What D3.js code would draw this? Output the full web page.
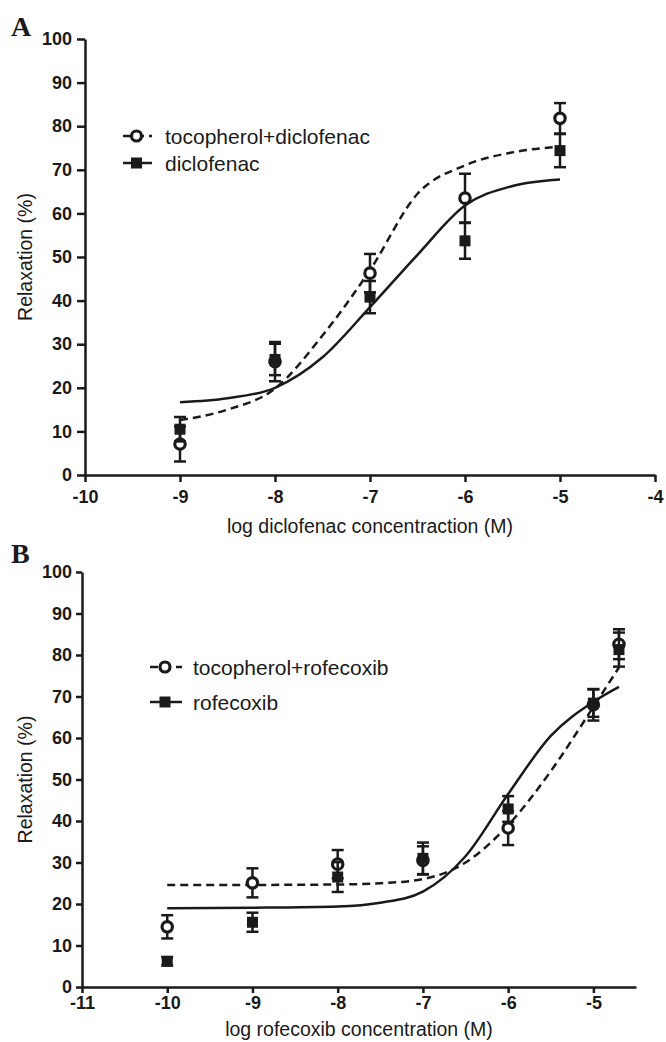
<!DOCTYPE html>
<html>
<head>
<meta charset="utf-8">
<script src="https://cdn.jsdelivr.net/npm/d3@7/dist/d3.min.js"></script>
<style>
  html, body { margin: 0; padding: 0; background: #fff; }
  svg { display: block; }
</style>
</head>
<body>
<svg id="chart" width="666" height="1042"></svg>
<script>
// ---------- Panel A data ----------
const aDoses = [-9, -8, -7, -6, -5];
const aTocoMean = [7.1, 26.0, 46.3, 63.5, 81.8];
const aTocoSem  = [4.0, 4.5, 4.4, 5.6, 3.5];
const aDicloMean = [10.5, 26.5, 40.8, 53.7, 74.4];
const aDicloSem  = [2.8, 3.6, 3.7, 4.1, 3.8];
const aFitX = [-9, -8.5, -8, -7.5, -7, -6.5, -6, -5.5, -5];
const aTocoFit  = [12.6, 15.0, 19.8, 32.0, 47.0, 64.5, 71.0, 74.0, 75.3];
const aDicloFit = [16.7, 17.6, 20.0, 27.0, 38.5, 50.5, 61.8, 66.3, 67.8];
const aXTicks = [-10, -9, -8, -7, -6, -5, -4];
const aLegend = ["tocopherol+diclofenac", "diclofenac"];

// ---------- Panel B data ----------
const bDoses = [-10, -9, -8, -7, -6, -5, -4.7];
const bTocoMean = [14.5, 25.1, 29.6, 30.5, 38.3, 68.0, 82.6];
const bTocoSem  = [2.8, 3.5, 3.4, 3.4, 4.1, 3.8, 3.6];
const bRofeMean = [6.2, 15.6, 26.5, 31.0, 42.9, 68.4, 81.3];
const bRofeSem  = [1.0, 2.3, 3.6, 3.8, 3.1, 3.3, 4.1];
const bFitX = [-10, -9, -8, -7.5, -7, -6.5, -6, -5.5, -5, -4.7];
const bTocoFit = [24.6, 24.6, 24.7, 25.0, 26.0, 30.0, 39.0, 52.0, 67.5, 77.0];
const bRofeFit = [19.0, 19.1, 19.4, 20.3, 23.0, 31.5, 46.5, 60.5, 68.7, 72.3];
const bXTicks = [-11, -10, -9, -8, -7, -6, -5];
const bLegend = ["tocopherol+rofecoxib", "rofecoxib"];

const yTicks = [0, 10, 20, 30, 40, 50, 60, 70, 80, 90, 100];

const svg = d3.select("#chart");
const FONT = "'Liberation Sans', Arial, Helvetica, sans-serif";
const INK = "#1a1a1a";

function drawPanel(cfg) {
  const g = svg.append("g");
  const x = d3.scaleLinear().domain(cfg.xDomain).range(cfg.xRange);
  const y = d3.scaleLinear().domain([0, 100]).range(cfg.yRange);

  const yAx = g.append("g")
    .attr("transform", `translate(${cfg.xRange[0]},0)`)
    .call(d3.axisLeft(y).tickValues(yTicks).tickSize(cfg.yTickSize).tickSizeOuter(0)
      .tickPadding(cfg.yTickPad).tickFormat(d => String(d)));
  const xAx = g.append("g")
    .attr("transform", `translate(0,${cfg.yRange[0]})`)
    .call(d3.axisBottom(x).tickValues(cfg.xTicks).tickSize(cfg.xTickSize).tickSizeOuter(0)
      .tickPadding(cfg.xTickPad).tickFormat(d => String(d)));
  [yAx, xAx].forEach(ax => {
    ax.select(".domain").attr("stroke", INK).attr("stroke-width", 2.5);
    ax.selectAll(".tick line").attr("stroke", INK).attr("stroke-width", 2.5);
    ax.selectAll(".tick text").attr("fill", INK)
      .style("font-family", FONT).style("font-weight", "bold").style("font-size", "18px");
  });

  g.append("text")
    .attr("x", (cfg.xRange[0] + cfg.xRange[1]) / 2).attr("y", cfg.xLabelY)
    .attr("text-anchor", "middle")
    .style("font-family", FONT).style("font-size", "19.5px").attr("fill", INK)
    .text(cfg.xLabel);
  g.append("text")
    .attr("transform", `translate(${cfg.yLabelX},${(cfg.yRange[0] + cfg.yRange[1]) / 2}) rotate(-90)`)
    .attr("text-anchor", "middle")
    .style("font-family", FONT).style("font-size", "19.5px").attr("fill", INK)
    .text("Relaxation (%)");

  g.append("text")
    .attr("x", 11).attr("y", cfg.letterY)
    .style("font-family", "'Liberation Serif', 'Times New Roman', serif")
    .style("font-weight", "bold").style("font-size", "28px").attr("fill", INK)
    .text(cfg.letter);

  const line = d3.line().x(d => x(d[0])).y(d => y(d[1])).curve(d3.curveMonotoneX);
  g.append("path").datum(cfg.fitX.map((v, i) => [v, cfg.tocoFit[i]]))
    .attr("d", line).attr("fill", "none").attr("stroke", INK)
    .attr("stroke-width", 2.5).attr("stroke-dasharray", "8,5");
  g.append("path").datum(cfg.fitX.map((v, i) => [v, cfg.drugFit[i]]))
    .attr("d", line).attr("fill", "none").attr("stroke", INK)
    .attr("stroke-width", 2.5);

  function errBars(means, sems) {
    const eg = g.append("g").attr("stroke", INK).attr("stroke-width", 2.5);
    cfg.doses.forEach((d, i) => {
      const cx = x(d), top = y(means[i] + sems[i]), bot = y(means[i] - sems[i]);
      eg.append("line").attr("x1", cx).attr("x2", cx).attr("y1", top).attr("y2", bot);
      eg.append("line").attr("x1", cx - 6).attr("x2", cx + 6).attr("y1", top).attr("y2", top);
      eg.append("line").attr("x1", cx - 6).attr("x2", cx + 6).attr("y1", bot).attr("y2", bot);
    });
  }
  errBars(cfg.tocoMean, cfg.tocoSem);
  g.append("g").selectAll("circle").data(cfg.doses).join("circle")
    .attr("cx", d => x(d)).attr("cy", (d, i) => y(cfg.tocoMean[i])).attr("r", 5.2)
    .attr("fill", "#fff").attr("stroke", INK).attr("stroke-width", 3.2);
  errBars(cfg.drugMean, cfg.drugSem);
  g.append("g").selectAll("rect").data(cfg.doses).join("rect")
    .attr("x", d => x(d) - 5.5).attr("y", (d, i) => y(cfg.drugMean[i]) - 5.5)
    .attr("width", 11).attr("height", 11).attr("fill", INK);

  const lg = g.append("g");
  const L = cfg.legend;
  lg.append("line").attr("x1", L.x0).attr("x2", L.x1).attr("y1", L.y[0]).attr("y2", L.y[0])
    .attr("stroke", INK).attr("stroke-width", 2.5).attr("stroke-dasharray", "8,5");
  lg.append("circle").attr("cx", (L.x0 + L.x1) / 2 - 1).attr("cy", L.y[0]).attr("r", 5)
    .attr("fill", "#fff").attr("stroke", INK).attr("stroke-width", 3.2);
  lg.append("line").attr("x1", L.x0).attr("x2", L.x1).attr("y1", L.y[1]).attr("y2", L.y[1])
    .attr("stroke", INK).attr("stroke-width", 2.5);
  lg.append("rect").attr("x", (L.x0 + L.x1) / 2 - 6.5).attr("y", L.y[1] - 5.5)
    .attr("width", 11).attr("height", 11).attr("fill", INK);
  cfg.legendLabels.forEach((t, i) => {
    lg.append("text").attr("x", L.tx).attr("y", L.y[i]).attr("dy", "0.36em")
      .style("font-family", FONT).style("font-size", "21px").attr("fill", INK)
      .text(t);
  });
}

drawPanel({
  letter: "A", letterY: 36,
  xDomain: [-10, -4], xRange: [85, 655], yRange: [475, 39],
  xTicks: aXTicks, yTickSize: 8, yTickPad: 5, xTickSize: 7, xTickPad: 8,
  xLabel: "log diclofenac concentraction (M)", xLabelY: 533, yLabelX: 32,
  doses: aDoses, tocoMean: aTocoMean, tocoSem: aTocoSem, drugMean: aDicloMean, drugSem: aDicloSem,
  fitX: aFitX, tocoFit: aTocoFit, drugFit: aDicloFit,
  legend: { x0: 123, x1: 152, y: [136, 163], tx: 165 },
  legendLabels: aLegend
});

drawPanel({
  letter: "B", letterY: 563,
  xDomain: [-11, -4.5], xRange: [82, 636], yRange: [987, 572],
  xTicks: bXTicks, yTickSize: 6, yTickPad: 4, xTickSize: 6, xTickPad: 3,
  xLabel: "log rofecoxib concentration (M)", xLabelY: 1036, yLabelX: 32,
  doses: bDoses, tocoMean: bTocoMean, tocoSem: bTocoSem, drugMean: bRofeMean, drugSem: bRofeSem,
  fitX: bFitX, tocoFit: bTocoFit, drugFit: bRofeFit,
  legend: { x0: 150, x1: 182, y: [667, 702], tx: 193 },
  legendLabels: bLegend
});
</script>
</body>
</html>
